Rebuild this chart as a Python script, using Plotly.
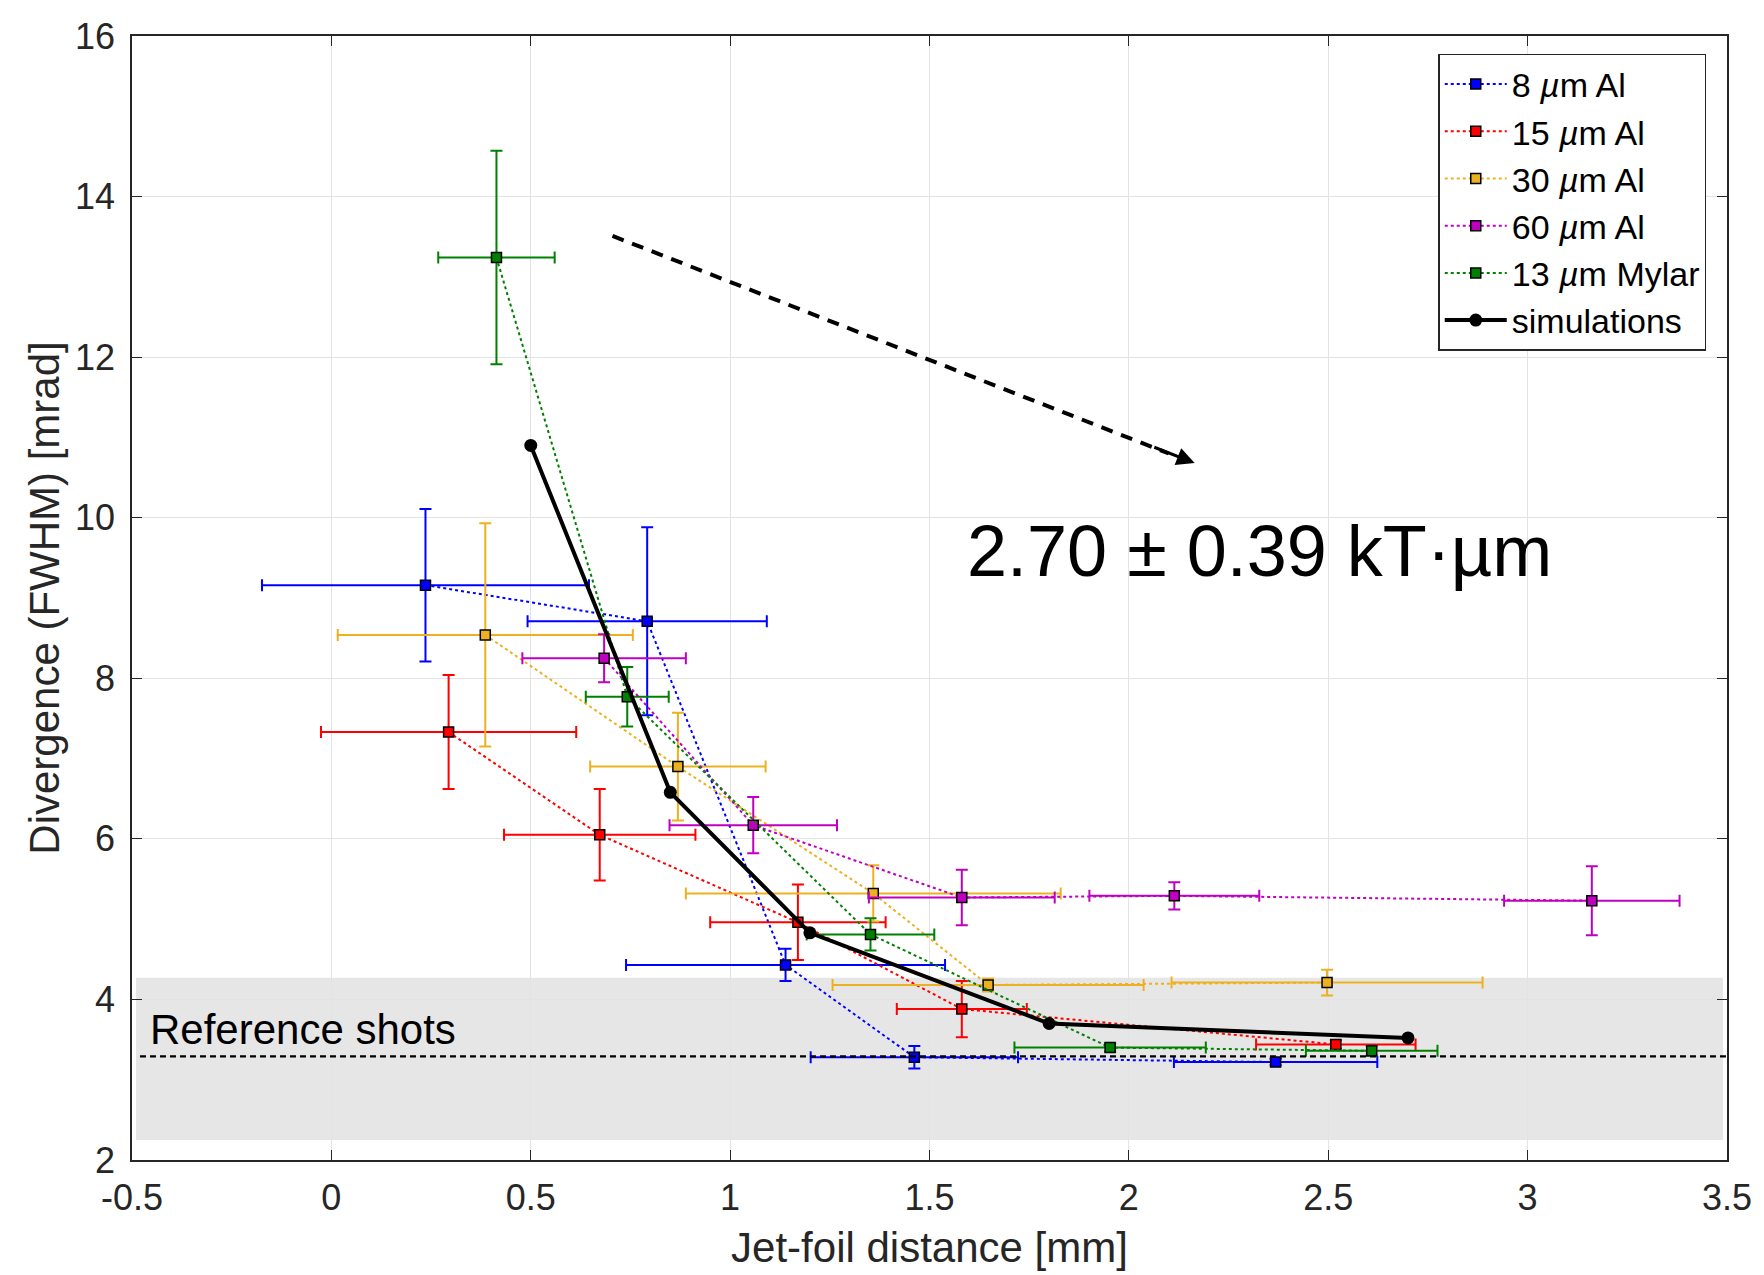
import plotly.graph_objects as go

# ---- data ----
al8_x = [0.236, 0.792, 1.139, 1.462, 2.368]
al8_y = [9.16, 8.71, 4.43, 3.28, 3.22]
al8_xe = [0.41, 0.30, 0.40, 0.26, 0.255]
al8_ye = [0.95, 1.17, 0.20, 0.14, 0.04]

al15_x = [0.294, 0.673, 1.170, 1.581, 2.519]
al15_y = [7.33, 6.05, 4.96, 3.88, 3.44]
al15_xe = [0.32, 0.24, 0.22, 0.163, 0.20]
al15_ye = [0.71, 0.57, 0.47, 0.35, 0.05]

al30_x = [0.386, 0.869, 1.359, 1.647, 2.497]
al30_y = [8.54, 6.90, 5.32, 4.18, 4.21]
al30_xe = [0.37, 0.22, 0.47, 0.39, 0.39]
al30_ye = [1.39, 0.67, 0.35, 0.08, 0.16]

al60_x = [0.684, 1.058, 1.581, 2.114, 3.161]
al60_y = [8.25, 6.17, 5.27, 5.29, 5.23]
al60_xe = [0.205, 0.21, 0.233, 0.213, 0.22]
al60_ye = [0.30, 0.35, 0.345, 0.17, 0.43]

my13_x = [0.414, 0.742, 1.352, 1.953, 2.609]
my13_y = [13.24, 7.77, 4.81, 3.40, 3.36]
my13_xe = [0.146, 0.104, 0.16, 0.24, 0.165]
my13_ye = [1.33, 0.37, 0.20, 0.05, 0.06]

sim_x = [0.5, 0.85, 1.2, 1.8, 2.7]
sim_y = [10.9, 6.58, 4.83, 3.70, 3.52]

ref_level = 3.29
ref_band = [2.25, 4.27]

x_ticks = [-0.5, 0, 0.5, 1, 1.5, 2, 2.5, 3, 3.5]
x_ticktext = ["-0.5", "0", "0.5", "1", "1.5", "2", "2.5", "3", "3.5"]
y_ticks = [2, 4, 6, 8, 10, 12, 14, 16]

series = [
    ("8 <i>µ</i>m Al", al8_x, al8_y, al8_xe, al8_ye, "#0000FF"),
    ("15 <i>µ</i>m Al", al15_x, al15_y, al15_xe, al15_ye, "#FF0000"),
    ("30 <i>µ</i>m Al", al30_x, al30_y, al30_xe, al30_ye, "#EDB120"),
    ("60 <i>µ</i>m Al", al60_x, al60_y, al60_xe, al60_ye, "#C000C0"),
    ("13 <i>µ</i>m Mylar", my13_x, my13_y, my13_xe, my13_ye, "#008000"),
]

FONT = "Liberation Sans, Arial, sans-serif"

fig = go.Figure()

# reference band and level
fig.add_shape(type="rect", xref="x", yref="y", x0=-0.49, x1=3.49,
              y0=ref_band[0], y1=ref_band[1], fillcolor="#E6E6E6",
              line=dict(width=0), layer="below")
fig.add_shape(type="line", xref="x", yref="y", x0=-0.48, x1=3.5,
              y0=ref_level, y1=ref_level,
              line=dict(color="black", width=2.2, dash="6px,4px"), layer="above")

for name, xs, ys, xe, ye, col in series:
    fig.add_trace(go.Scatter(
        x=xs, y=ys, name=name, mode="lines+markers",
        line=dict(color=col, width=2, dash="dot"),
        marker=dict(symbol="square", size=10, color=col,
                    line=dict(color="black", width=1.5)),
        error_x=dict(type="data", array=xe, visible=True, color=col,
                     thickness=2, width=6),
        error_y=dict(type="data", array=ye, visible=True, color=col,
                     thickness=2, width=6),
    ))

fig.add_trace(go.Scatter(
    x=sim_x, y=sim_y, name="simulations", mode="lines+markers",
    line=dict(color="black", width=4),
    marker=dict(symbol="circle", size=13, color="black"),
))

# dashed arrow
fig.add_shape(type="line", xref="x", yref="y", x0=0.705, y0=13.51,
              x1=2.10, y1=10.80,
              line=dict(color="black", width=4, dash="12px,9px"))
fig.add_annotation(x=2.165, y=10.68, ax=2.06, ay=10.885, xref="x", yref="y",
                   axref="x", ayref="y", text="", showarrow=True,
                   arrowhead=2, arrowsize=1.2, arrowwidth=3, arrowcolor="black")

fig.add_annotation(x=1.589, y=9.59, xref="x", yref="y", text="2.70 ± 0.39 kT·µm",
                   showarrow=False, xanchor="left", yanchor="middle",
                   font=dict(family=FONT, size=72, color="black"))
fig.add_annotation(x=-0.46, y=3.62, xref="x", yref="y", text="Reference shots",
                   showarrow=False, xanchor="left", yanchor="middle",
                   font=dict(family=FONT, size=42, color="black"))

axis_common = dict(
    showline=True, linecolor="#262626", linewidth=1.5, mirror="ticks",
    ticks="inside", ticklen=10, tickwidth=1.2, tickcolor="#262626",
    showgrid=True, gridcolor="#E3E3E3", gridwidth=1.2, zeroline=False,
    tickfont=dict(family=FONT, size=36, color="#262626"),
)

fig.update_layout(
    width=1764, height=1275,
    margin=dict(l=132, r=35, t=36, b=114),
    paper_bgcolor="white", plot_bgcolor="white",
    xaxis=dict(range=[-0.5, 3.5], tickvals=x_ticks, ticktext=x_ticktext,
               ticklabelstandoff=5,
               title=dict(text="Jet-foil distance [mm]",
                          font=dict(family=FONT, size=42, color="#262626"),
                          standoff=16),
               **axis_common),
    yaxis=dict(range=[2, 16], tickvals=y_ticks, ticklabelstandoff=8,
               title=dict(text="Divergence (FWHM) [mrad]",
                          font=dict(family=FONT, size=42, color="#262626"),
                          standoff=2),
               **axis_common),
    legend=dict(x=0.987, y=0.984, xanchor="right", yanchor="top",
                bgcolor="white", bordercolor="#262626", borderwidth=1.5,
                font=dict(family=FONT, size=34, color="black"),
                itemwidth=62, tracegroupgap=0),
    showlegend=True,
)

fig.write_html("out.html")
